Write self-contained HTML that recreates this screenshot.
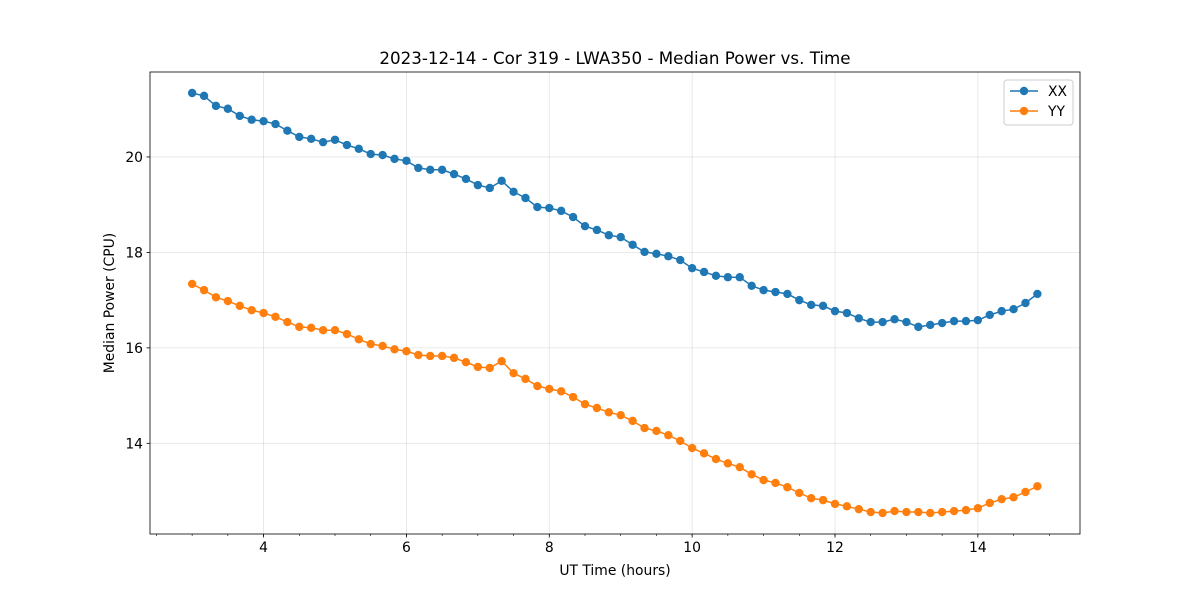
<!DOCTYPE html>
<html><head><meta charset="utf-8"><style>
body{margin:0;background:#fff;font-family:"DejaVu Sans","Liberation Sans",sans-serif}
</style></head><body>
<svg id="chart" width="1200" height="600" xmlns="http://www.w3.org/2000/svg" font-family="DejaVu Sans, Liberation Sans, sans-serif"></svg>
<script>
const xxValues=[21.34,21.28,21.07,21.01,20.86,20.78,20.75,20.69,20.55,20.42,20.38,20.31,20.36,20.25,20.17,20.06,20.04,19.96,19.92,19.77,19.73,19.73,19.64,19.54,19.41,19.35,19.50,19.27,19.14,18.95,18.93,18.87,18.74,18.55,18.47,18.36,18.32,18.16,18.01,17.97,17.92,17.84,17.67,17.59,17.51,17.48,17.48,17.30,17.21,17.17,17.13,17.00,16.90,16.88,16.77,16.73,16.62,16.54,16.54,16.60,16.54,16.44,16.48,16.52,16.56,16.56,16.58,16.69,16.77,16.81,16.94,17.13];
const yyValues=[17.34,17.21,17.06,16.98,16.88,16.79,16.73,16.65,16.54,16.44,16.42,16.37,16.37,16.29,16.18,16.08,16.04,15.97,15.93,15.85,15.83,15.83,15.79,15.70,15.60,15.58,15.72,15.47,15.35,15.20,15.14,15.09,14.97,14.82,14.74,14.65,14.59,14.47,14.32,14.26,14.17,14.05,13.90,13.79,13.67,13.58,13.50,13.35,13.23,13.17,13.08,12.96,12.85,12.81,12.73,12.68,12.62,12.56,12.54,12.58,12.56,12.56,12.54,12.56,12.58,12.60,12.64,12.75,12.83,12.87,12.98,13.10];
const startHour=3.0;
const stepHour=1/6;
const xTicks=[4,6,8,10,12,14];
const yTicks=[14,16,18,20];
const L=150,R=1080,T=72,B=534;
const xMin=2.41,xMax=15.43,yMin=12.10,yMax=21.78;
const sx=v=>L+(v-xMin)/(xMax-xMin)*(R-L);
const sy=v=>B-(v-yMin)/(yMax-yMin)*(B-T);
const svg=document.getElementById('chart');
const NS='http://www.w3.org/2000/svg';
function mk(tag,attrs,parent){const e=document.createElementNS(NS,tag);for(const k in attrs)e.setAttribute(k,attrs[k]);(parent||svg).appendChild(e);return e;}
xTicks.forEach(t=>{const g=mk('line',{x1:sx(t),x2:sx(t),y1:T,y2:B,stroke:'#b0b0b0','stroke-opacity':0.35,'stroke-width':0.8});

});
yTicks.forEach(t=>{const g=mk('line',{x1:L,x2:R,y1:sy(t),y2:sy(t),stroke:'#b0b0b0','stroke-opacity':0.35,'stroke-width':0.8});

});
function series(vals,color,name){
 const g=mk('g',{});
 
 
 const pts=vals.map((v,i)=>sx(startHour+i*stepHour).toFixed(1)+','+sy(v).toFixed(1)).join(' ');
 mk('polyline',{points:pts,fill:'none',stroke:color,'stroke-width':1.5},g);
 vals.forEach((v,i)=>{const c=mk('circle',{cx:sx(startHour+i*stepHour),cy:sy(v),r:4.2,fill:color},g);
 
 });
}
series(xxValues,'#1f77b4','series-xx');
series(yyValues,'#ff7f0e','series-yy');
const fr=mk('rect',{x:L,y:T,width:R-L,height:B-T,fill:'none',stroke:'#000','stroke-width':0.8});


for(let m=2.5;m<=15.4;m+=0.5){if(m<xMin)continue;mk('line',{x1:sx(m),x2:sx(m),y1:B,y2:B+2,stroke:'#000','stroke-width':0.6});}
xTicks.forEach(t=>{mk('line',{x1:sx(t),x2:sx(t),y1:B,y2:B+3.5,stroke:'#000','stroke-width':0.8});
const tx=mk('text',{x:sx(t),y:B+18,'text-anchor':'middle','font-size':13.9});tx.textContent=t;

});
yTicks.forEach(t=>{mk('line',{x1:L-3.5,x2:L,y1:sy(t),y2:sy(t),stroke:'#000','stroke-width':0.8});
const tx=mk('text',{x:L-7,y:sy(t)+5,'text-anchor':'end','font-size':13.9});tx.textContent=t;

});
</script>
<svg style="position:absolute;left:0;top:0" width="1200" height="600" xmlns="http://www.w3.org/2000/svg" font-family="DejaVu Sans, Liberation Sans, sans-serif">
<text x="615" y="64" text-anchor="middle" font-size="16.7">2023-12-14 - Cor 319 - LWA350 - Median Power vs. Time</text>
<text x="615" y="575" text-anchor="middle" font-size="13.9">UT Time (hours)</text>
<text transform="translate(114,303) rotate(-90)" text-anchor="middle" font-size="13.9">Median Power (CPU)</text>
<g>
<rect x="1004" y="80" width="69" height="45" rx="3" fill="#fff" fill-opacity="0.8" stroke="#ccc"/>
<g><line x1="1010" x2="1038" y1="91" y2="91" stroke="#1f77b4" stroke-width="1.5"/><circle cx="1024" cy="91" r="4.2" fill="#1f77b4"/><text x="1048" y="96" font-size="13.9">XX</text></g>
<g><line x1="1010" x2="1038" y1="111" y2="111" stroke="#ff7f0e" stroke-width="1.5"/><circle cx="1024" cy="111" r="4.2" fill="#ff7f0e"/><text x="1048" y="116" font-size="13.9">YY</text></g>
</g>
</svg>
</body></html>
